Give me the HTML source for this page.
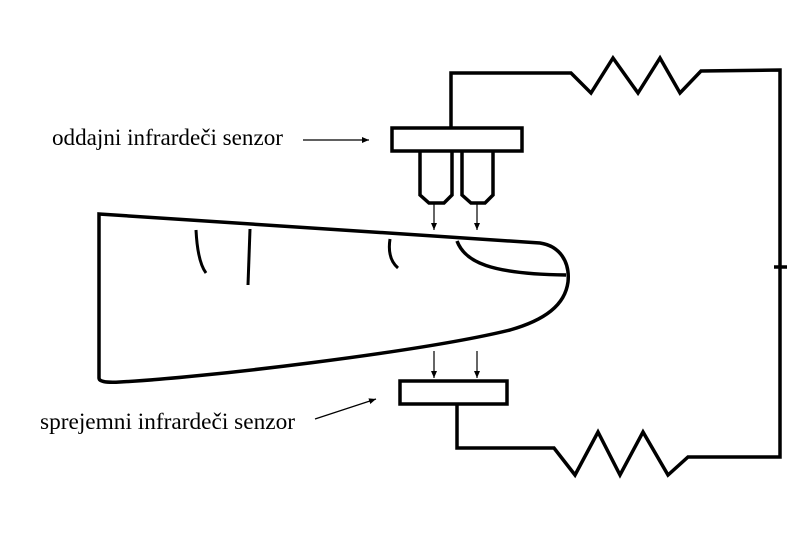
<!DOCTYPE html>
<html><head><meta charset="utf-8"><style>html,body{margin:0;padding:0;background:#fff}svg{display:block}</style></head>
<body>
<svg width="800" height="544" viewBox="0 0 800 544" xmlns="http://www.w3.org/2000/svg">
<defs><marker id="a" markerWidth="8" markerHeight="8" refX="7" refY="4" orient="auto" markerUnits="userSpaceOnUse"><path d="M0,1 L7,4 L0,7 z" fill="#000"/></marker></defs>
<g fill="none" stroke="#000" stroke-width="3.5" stroke-linejoin="miter">
<polyline points="451,127 451,73 571,73 591,93 613,58 638,93 660,58 680,93 701,71 780,70 780,457 688,457 668,475 643,432 620,475 598,432 575,475 554,448 457,448 457,404"/>
<line x1="774" y1="267" x2="787" y2="267"/>
<rect x="392" y="128" width="130" height="23"/>
<path d="M420,151 V195 L429,203 H444 L452,195 V151"/>
<path d="M462,151 V195 L471,203 H485 L493,195 V151"/>
<rect x="400" y="381" width="107" height="23"/>
<path d="M99,214 L540,243 C560,246 570,262 568,282 C565,305 545,320 510,330 C420,352 200,378 120,382 C104,383 99,381 99,378 Z"/>
<path d="M457,241 C465,262 490,274 566,275" />
<path d="M196,230 C197,250 200,265 206,273" stroke-width="3"/>
<path d="M250,229 L248,285" stroke-width="3"/>
<path d="M390,239 C388,252 391,262 398,268" stroke-width="3"/>
</g>
<g stroke="#000" stroke-width="1.2" fill="none">
<line x1="434" y1="204" x2="434" y2="230" marker-end="url(#a)"/>
<line x1="477" y1="204" x2="477" y2="230" marker-end="url(#a)"/>
<line x1="434" y1="351" x2="434" y2="378" marker-end="url(#a)"/>
<line x1="477" y1="351" x2="477" y2="378" marker-end="url(#a)"/>
<line x1="303" y1="140" x2="369" y2="140" marker-end="url(#a)"/>
<line x1="315" y1="419" x2="376" y2="399" marker-end="url(#a)"/>
</g>
<g font-family="Liberation Serif, serif" font-size="23" fill="#000">
<text x="52" y="145" textLength="231" lengthAdjust="spacingAndGlyphs">oddajni infrardeči senzor</text>
<text x="40" y="429" textLength="255" lengthAdjust="spacingAndGlyphs">sprejemni infrardeči senzor</text>
</g>
</svg>
</body></html>
